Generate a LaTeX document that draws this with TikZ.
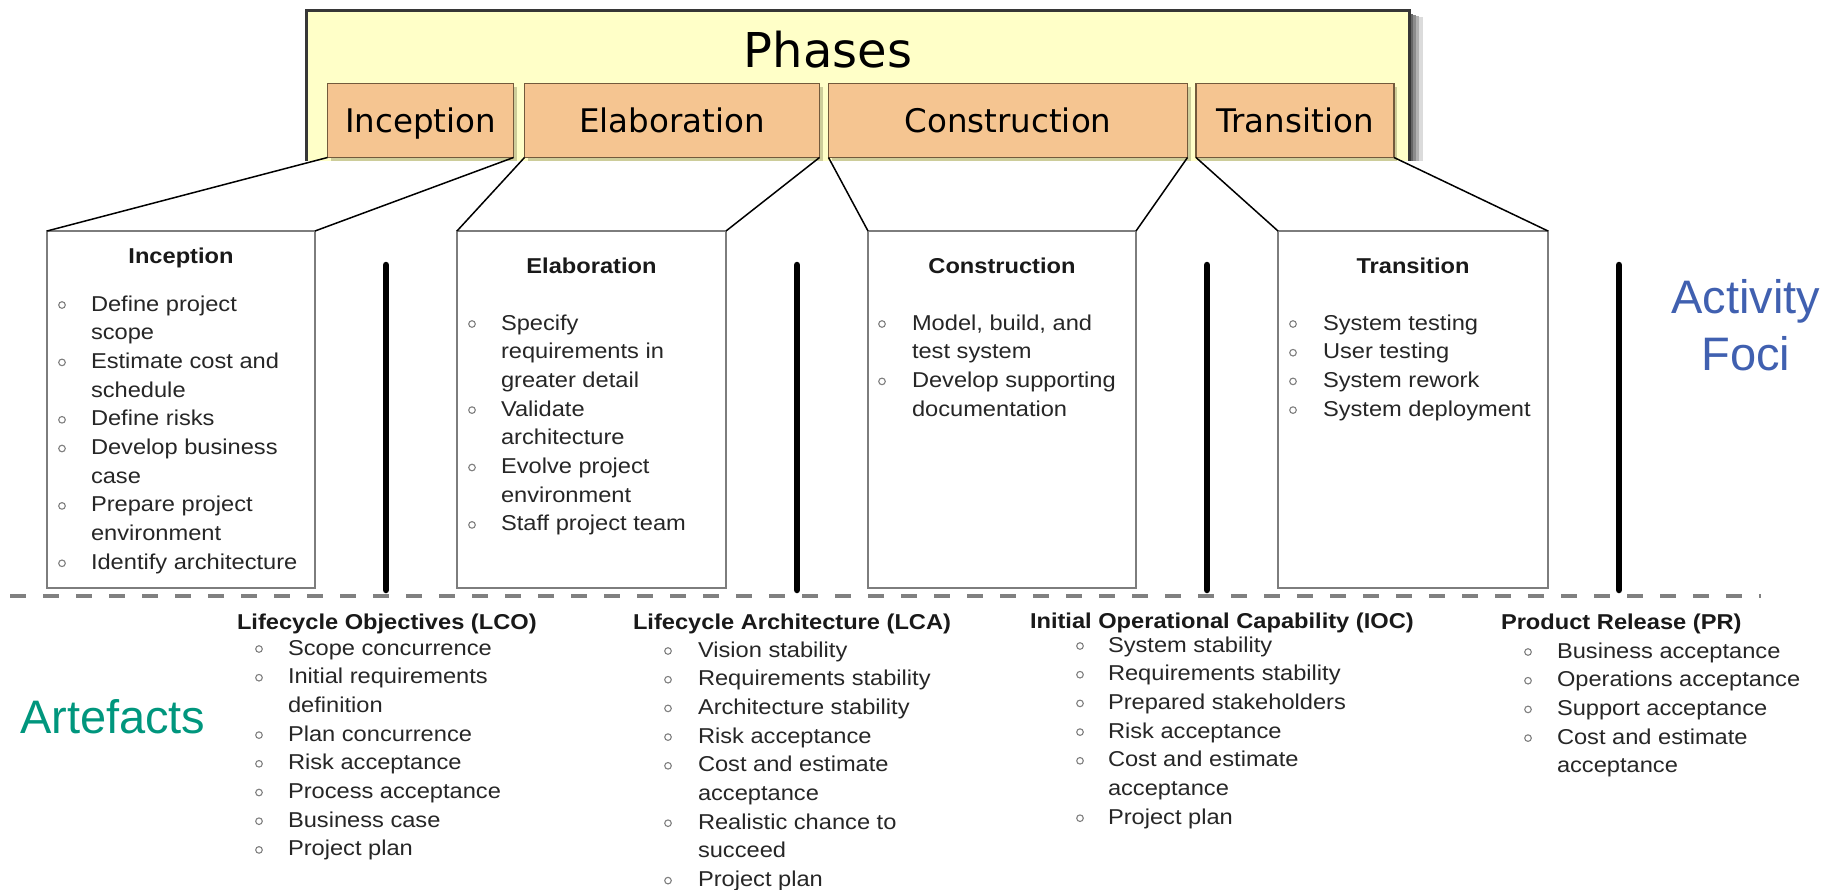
\documentclass[tikz,border=0pt]{standalone}
\usepackage{fontspec}
\setmainfont{Liberation Sans}
\newfontfamily\listfont[FakeStretch=1.1]{Liberation Sans}
\newfontfamily\headfont{DejaVu Sans}
\usetikzlibrary{shadows}

\definecolor{phaseyellow}{RGB}{255,255,200}
\definecolor{phaseorange}{RGB}{245,197,145}
\definecolor{orangeedge}{RGB}{115,90,60}
\definecolor{orangeshade}{RGB}{200,200,150}
\definecolor{frameedge}{RGB}{55,55,55}
\definecolor{focusblue}{RGB}{64,96,176}
\definecolor{artgreen}{RGB}{0,150,125}
\definecolor{boxgray}{RGB}{125,125,125}
\definecolor{dashgray}{RGB}{128,128,128}

\tikzset{
  every node/.style={inner sep=0pt, outer sep=0pt},
  phasebox/.style={draw=orangeedge, line width=1.8pt, fill=phaseorange,
    minimum height=74pt, text height=24pt, text depth=0pt,
    font=\headfont\fontsize{32.5}{36}\selectfont,
    drop shadow={shadow xshift=3pt, shadow yshift=-3pt, fill=orangeshade, opacity=0.9}},
  actbox/.style={draw=boxgray, line width=2pt, fill=white,
    minimum width=268pt, minimum height=357pt},
  acttitle/.style={font=\listfont\bfseries\fontsize{21.5}{24}\selectfont, anchor=base, text=black!90},
  msttitle/.style={font=\listfont\bfseries\fontsize{21.5}{24}\selectfont, anchor=base west, text=black!90},
  itemtext/.style={font=\listfont\fontsize{21.5}{24}\selectfont, anchor=base west, text=black!85},
  bul/.style={draw=black!50, line width=1.1pt},
  link/.style={line width=1.5pt},
  phasebar/.style={line width=6.5pt, line cap=round},
  sepline/.style={draw=dashgray, line width=4pt, dash pattern=on 16pt off 17pt},
  sidelabel/.style={font=\fontsize{47}{52}\selectfont, anchor=base},
}

% one line per entry: 1/text starts a bulleted item, 0/text continues it
\newcommand{\itemlist}[5]{%
  \foreach [count=\k] \bb/\txt in {#5} {%
    \pgfmathsetmacro{\yy}{#4+(\k-1)*28.7}%
    \node[itemtext] (#1-\k) at (#3,\yy) {\txt};%
    \ifnum\bb=1 \draw[bul] (#2,\yy-6) circle[radius=3.3];\fi
  }%
}

\begin{document}
\begin{tikzpicture}[x=1pt, y=-1pt]
\useasboundingbox (0,0) rectangle (1827,889);

% ---- phases header ----
% soft shadow on the right of the frame
\fill[black!60] (1409,14) rectangle (1413,161);
\fill[black!45] (1413,15) rectangle (1416,161);
\fill[black!30] (1416,16) rectangle (1419,161);
\fill[black!14] (1419,17) rectangle (1423,161);
\node[fill=phaseyellow, minimum width=1103pt, minimum height=151pt] (frame) at (857.5,85.5) {};
\draw[frameedge, line width=3pt] (frame.south west) -- (frame.north west) -- (frame.north east) -- (frame.south east);
\node[font=\headfont\fontsize{48}{52}\selectfont, anchor=base] (phases) at (828,67) {Phases};

\node[phasebox, minimum width=186pt] (pinc) at (420.5,120.5) {Inception};
\node[phasebox, minimum width=295pt] (pela) at (672,120.5) {Elaboration};
\node[phasebox, minimum width=359pt] (pcon) at (1008,120.5) {Construction};
\node[phasebox, minimum width=198pt] (ptra) at (1295,120.5) {Transition};

% ---- activity boxes ----
\node[actbox] (ainc) at (181,409.5) {};
\node[actbox, minimum width=269pt] (aela) at (591.5,409.5) {};
\node[actbox] (acon) at (1002,409.5) {};
\node[actbox, minimum width=270pt] (atra) at (1413,409.5) {};

\draw[link] (pinc.south west) -- (ainc.north west);
\draw[link] (pinc.south east) -- (ainc.north east);
\draw[link] (pela.south west) -- (aela.north west);
\draw[link] (pela.south east) -- (aela.north east);
\draw[link] (pcon.south west) -- (acon.north west);
\draw[link] (pcon.south east) -- (acon.north east);
\draw[link] (ptra.south west) -- (atra.north west);
\draw[link] (ptra.south east) -- (atra.north east);

\node[acttitle] (tinc) at (181,263) {Inception};
\node[acttitle] (tela) at (591.5,273) {Elaboration};
\node[acttitle] (tcon) at (1002,273) {Construction};
\node[acttitle] (ttra) at (1413,273) {Transition};

\itemlist{inc}{62}{91}{311}{1/Define project, 0/scope, 1/Estimate cost and, 0/schedule, 1/Define risks, 1/Develop business, 0/case, 1/Prepare project, 0/environment, 1/Identify architecture}
\itemlist{ela}{472}{501}{330}{1/Specify, 0/requirements in, 0/greater detail, 1/Validate, 0/architecture, 1/Evolve project, 0/environment, 1/Staff project team}
\itemlist{con}{882}{912}{330}{1/{Model, build, and}, 0/test system, 1/Develop supporting, 0/documentation}
\itemlist{tra}{1293}{1323}{330}{1/System testing, 1/User testing, 1/System rework, 1/System deployment}

% ---- milestone bars and separator ----
\draw[phasebar] (386,265) -- (386,590);
\draw[phasebar] (797,265) -- (797,590);
\draw[phasebar] (1207,265) -- (1207,590);
\draw[phasebar] (1619,265) -- (1619,590);

\coordinate (sepL) at (10,596);
\coordinate (sepR) at (1761,596);
\draw[sepline] (sepL) -- (sepR);

% ---- side labels ----
\node[sidelabel, text=focusblue] (foci1) at (1746,313) {Activity};
\node[sidelabel, text=focusblue] (foci2) at (1746,370) {Foci};
\node[sidelabel, anchor=base west, text=artgreen] (artefacts) at (20,733) {Artefacts};

% ---- milestone artefacts ----
\node[msttitle] (mlco) at (237,629) {Lifecycle Objectives (LCO)};
\itemlist{lco}{259}{288}{655}{1/Scope concurrence, 1/Initial requirements, 0/definition, 1/Plan concurrence, 1/Risk acceptance, 1/Process acceptance, 1/Business case, 1/Project plan}

\node[msttitle] (mlca) at (633,629) {Lifecycle Architecture (LCA)};
\itemlist{lca}{668}{698}{657}{1/Vision stability, 1/Requirements stability, 1/Architecture stability, 1/Risk acceptance, 1/Cost and estimate, 0/acceptance, 1/Realistic chance to, 0/succeed, 1/Project plan}

\node[msttitle] (mioc) at (1030,628) {Initial Operational Capability (IOC)};
\itemlist{ioc}{1080}{1108}{652}{1/System stability, 1/Requirements stability, 1/Prepared stakeholders, 1/Risk acceptance, 1/Cost and estimate, 0/acceptance, 1/Project plan}

\node[msttitle] (mpr) at (1501,629) {Product Release (PR)};
\itemlist{pr}{1528}{1557}{658}{1/Business acceptance, 1/Operations acceptance, 1/Support acceptance, 1/Cost and estimate, 0/acceptance}
\end{tikzpicture}
\end{document}
